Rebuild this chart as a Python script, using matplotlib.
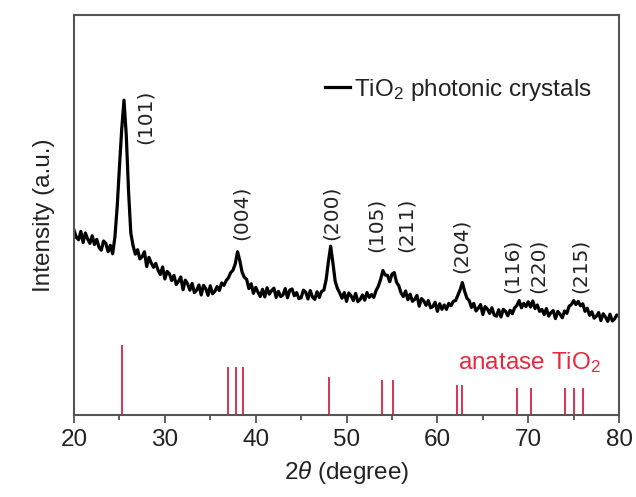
import numpy as np
import matplotlib
matplotlib.use("Agg")
import matplotlib.pyplot as plt

plt.rcParams['font.family'] = ['Liberation Sans', 'DejaVu Sans']
plt.rcParams['mathtext.fontset'] = 'custom'
plt.rcParams['mathtext.rm'] = 'Liberation Sans'
plt.rcParams['mathtext.it'] = 'Liberation Sans:italic'

# measured pattern, 20-80 deg in 0.25 deg steps (one row per degree)
two_theta = np.linspace(20, 80, 241)
intensity = [
    46.2, 44.4, 43.8, 45.9,
    43.1, 45.5, 44.0, 42.9,
    44.8, 42.6, 43.9, 41.9,
    41.2, 43.5, 42.9, 40.8,
    42.4, 40.3, 44.5, 52.0,
    62.0, 71.5, 78.7, 70.0,
    56.0, 45.5, 42.3, 40.2,
    41.3, 39.0, 39.6, 40.8,
    37.1, 39.4, 38.0, 36.9,
    37.9, 36.2, 35.1, 37.0,
    34.0, 35.9, 35.3, 33.6,
    34.9, 32.6, 33.4, 34.5,
    31.3, 33.7, 32.8, 31.2,
    32.9, 30.6, 31.2, 32.5,
    30.0, 32.4, 31.6, 29.9,
    32.3, 30.3, 30.9, 32.1,
    31.1, 33.0, 32.4, 33.6,
    34.3, 35.6, 36.2, 37.8,
    40.8, 38.6, 35.7, 34.4,
    33.9, 31.6, 32.8, 30.4,
    31.9, 30.7, 29.6, 31.4,
    29.5, 31.8, 30.2, 31.1,
    31.7, 29.4, 30.9, 29.6,
    30.0, 31.6, 29.3, 31.2,
    31.5, 29.8, 30.6, 29.1,
    29.3, 31.2, 30.7, 29.0,
    31.1, 29.5, 28.9, 30.8,
    29.4, 30.9, 31.2, 33.8,
    38.3, 42.2, 38.0, 33.4,
    31.6, 30.5, 29.2, 30.6,
    28.4, 30.5, 29.8, 28.6,
    30.4, 28.3, 28.9, 30.0,
    28.7, 30.6, 29.4, 30.1,
    29.4, 31.1, 32.2, 33.9,
    36.1, 35.0, 34.9, 33.3,
    35.2, 35.6, 33.2, 32.3,
    30.5, 29.6, 31.0, 28.8,
    30.2, 28.4, 28.9, 29.9,
    27.2, 29.1, 28.5, 27.4,
    28.6, 26.8, 27.1, 28.2,
    25.9, 27.8, 26.4, 27.5,
    26.4, 27.9, 27.3, 28.4,
    28.6, 29.9, 31.3, 33.1,
    30.9, 29.2, 28.6, 26.9,
    27.9, 26.0, 26.7, 27.6,
    25.1, 27.1, 26.5, 25.4,
    26.8, 25.0, 24.7, 26.3,
    24.5, 26.4, 25.9, 24.8,
    26.2, 25.3, 26.8, 27.4,
    28.6, 26.8, 27.9, 27.1,
    28.3, 27.0, 28.5, 26.6,
    27.5, 25.9, 26.4, 25.1,
    26.6, 24.7, 25.6, 26.1,
    24.1, 25.9, 25.2, 24.3,
    26.0, 25.4, 27.2, 27.6,
    28.6, 27.6, 28.4, 27.3,
    27.8, 25.9, 26.7, 24.9,
    25.8, 24.2, 24.7, 25.6,
    23.6, 25.3, 24.5, 23.4,
    25.2, 23.5, 24.0, 25.0,
    24.6,
]

# anatase TiO2 reference lines
ref_pos = [25.28, 36.95, 37.80, 38.58, 48.05, 53.89, 55.06, 62.12, 62.69,
           68.76, 70.31, 74.03, 75.03, 76.02]
ref_height = [17.5, 12.1, 12.1, 12.1, 9.6, 8.8, 8.8, 7.5, 7.5,
              6.8, 6.8, 6.8, 6.8, 6.8]

# peak labels: text, x, y of the bottom end
peak_names = ['(101)', '(004)', '(200)', '(105)', '(211)', '(204)',
              '(116)', '(220)', '(215)']
peak_x = [27.8, 38.45, 48.37, 53.3, 56.6, 62.6, 68.2, 71.1, 75.7]
peak_y = [67.8, 43.8, 43.8, 40.8, 40.8, 35.5, 30.5, 30.5, 30.5]

red = '#d93353'

fig = plt.figure(figsize=(6.36, 4.97), dpi=100)
ax = fig.add_axes([0.1164, 0.165, 0.857, 0.805])

ax.plot(two_theta, intensity, color='black', lw=2.3, label='TiO$_2$ photonic crystals')
ax.vlines(ref_pos, 0, ref_height, color=red, lw=1.4)

for name, px, py in zip(peak_names, peak_x, peak_y):
    ax.text(px, py, name, rotation=90, ha='center', va='bottom',
            fontsize=14.5, family='DejaVu Sans', color='#222222')

ax.text(62.3, 13.0, 'anatase TiO$_2$', color='#e5283f', fontsize=17.5,
        ha='left', va='center')

ax.set_xlim(20, 80)
ax.set_ylim(0, 100)
ax.set_xticks([20, 30, 40, 50, 60, 70, 80])
ax.set_xticks([25, 35, 45, 55, 65, 75], minor=True)
ax.set_yticks([])
ax.tick_params(axis='x', which='major', direction='out', length=6, width=1.2,
               labelsize=17.5, pad=4, color='#444444', labelcolor='#222222')
ax.tick_params(axis='x', which='minor', direction='out', length=3.5, width=1.2,
               color='#444444')
for s in ax.spines.values():
    s.set_linewidth(1.5)
    s.set_color('#555555')

ax.set_xlabel('2$\\theta$ (degree)', fontsize=17.5, labelpad=6, color='#222222')
ax.set_ylabel('Intensity (a.u.)', fontsize=17.5, labelpad=14, color='#222222')

ax.legend(loc='center left', bbox_to_anchor=(0.46, 0.8125), frameon=False,
          fontsize=17.5, handlelength=1.05, handletextpad=0.15,
          borderpad=0, borderaxespad=0, labelcolor='#222222')

fig.savefig('out.png', dpi=100)
